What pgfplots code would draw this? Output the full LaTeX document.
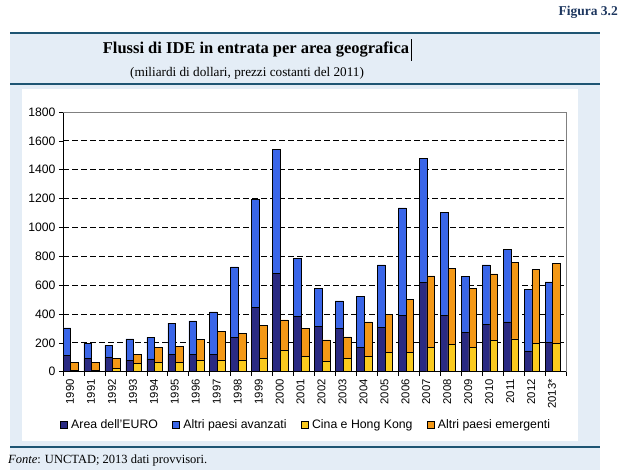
\documentclass[border=0pt]{standalone}
\usepackage{fontspec}
\setmainfont{Liberation Serif}
\setsansfont{Liberation Sans}
\usepackage{pgfplots}
\usepackage{pgfplotstable}
\pgfplotsset{compat=1.18}
\definecolor{euro}{RGB}{42,42,130}
\definecolor{avanz}{RGB}{58,102,232}
\definecolor{cina}{RGB}{250,202,30}
\definecolor{emerg}{RGB}{243,152,22}
\definecolor{panelbg}{RGB}{228,237,246}
\definecolor{rulec}{RGB}{30,85,115}
\definecolor{figc}{RGB}{30,55,95}

\pgfplotstableread{
x euro avanz cina emerg
0 113 191 8 57
1 92 104 8 57
2 99 83 25 67
3 81 147 58 62
4 88 150 62 106
5 120 217 65 110
6 120 233 81 143
7 120 295 81 196
8 238 489 81 187
9 445 750 90 231
10 680 859 150 210
11 383 404 104 194
12 314 263 72 149
13 298 193 90 152
14 168 353 104 242
15 307 433 134 263
16 390 745 134 367
17 618 858 166 498
18 390 715 189 528
19 270 392 166 411
20 330 410 215 463
21 346 503 228 529
22 145 425 196 512
23 203 420 196 554
}\data

\pgfplotsset{
  common/.style={
    scale only axis, width=503pt, height=259.7pt,
    at={(63pt,98.3pt)}, anchor=south west,
    xmin=-0.5, xmax=23.5, ymin=0, ymax=1800,
    ybar stacked, bar width=0.367,
    clip=false,
  },
}

\begin{document}
\begin{tikzpicture}
\useasboundingbox (0pt,0pt) rectangle (619pt,470pt);
\fill[panelbg] (10pt,0pt) rectangle (600pt,437pt);
\fill[white] (22pt,29pt) rectangle (578pt,381pt);
\draw[rulec, line width=2pt] (10pt,437pt) -- (600pt,437pt);
\draw[rulec, line width=2pt] (10pt,386pt) -- (600pt,386pt);
\draw[rulec, line width=2pt] (10pt,23pt) -- (600pt,23pt);
\node[anchor=east, font=\fontsize{13.5}{15}\selectfont\bfseries, text=figc, inner sep=0pt] at (618pt,458pt) {Figura 3.2};
\node[font=\fontsize{16.5}{19}\selectfont\bfseries, inner sep=0pt] at (256pt,420pt) {Flussi di IDE in entrata per area geografica};
\draw[black, line width=0.8pt] (411pt,409pt) -- (411pt,431pt);
\node[font=\fontsize{13.2}{15}\selectfont, inner sep=0pt] at (247pt,397pt) {(miliardi di dollari, prezzi costanti del 2011)};
\node[anchor=west, font=\fontsize{12.5}{14}\selectfont, inner sep=0pt] at (8pt,9pt) {\textit{Fonte}: UNCTAD; 2013 dati provvisori.};

\begin{axis}[common,
  bar shift=-0.3165,
  axis x line*=bottom, axis y line*=left,
  axis line style={-, black, line width=0.8pt},
  xtick={-0.26,0.74,1.74,2.74,3.74,4.74,5.74,6.74,7.74,8.74,9.74,10.74,11.74,12.74,13.74,14.74,15.74,16.74,17.74,18.74,19.74,20.74,21.74,22.74},
  xticklabels={1990,1991,1992,1993,1994,1995,1996,1997,1998,1999,2000,2001,2002,2003,2004,2005,2006,2007,2008,2009,2010,2011,2012,2013*},
  major x tick style={draw=none},
  minor xtick={-0.5,0.5,...,23.5},
  minor tick length=4pt, major tick length=4pt,
  tick align=outside, xtick pos=bottom, ytick pos=left,
  tick style={black, line width=0.6pt},
  ytick={0,200,...,1800},
  extra y ticks={200,400,...,1600}, extra y tick labels={},
  extra y tick style={ymajorgrids=true, major tick length=0pt},
  major grid style={black, dash pattern=on 6pt off 3pt, line width=0.8pt},
  /pgf/number format/1000 sep={}, /pgf/number format/assume math mode=true,
  xticklabel style={rotate=90, anchor=east, yshift=-2pt, font=\sffamily\fontsize{11.3}{13}\selectfont},
  yticklabel style={font=\sffamily\fontsize{12.2}{14}\selectfont},
]
\addplot[fill=euro, draw=black, line width=0.5pt] table[x=x,y=euro]{\data};
\addplot[fill=avanz, draw=black, line width=0.5pt] table[x=x,y=avanz]{\data};
\draw[gray, line width=0.8pt] (rel axis cs:0,1) -- (rel axis cs:1,1) -- (rel axis cs:1,0);
\end{axis}

\begin{axis}[common,
  bar shift=0.05,
  hide axis,
  legend image code/.code={\draw[#1,draw=black,line width=0.4pt] (0pt,-3.5pt) rectangle (7pt,3.5pt);},
  legend columns=4,
  legend style={at={(0.483,-0.205)}, anchor=center, draw=none, fill=none,
    font=\sffamily\fontsize{12.3}{14}\selectfont,
    /tikz/every even column/.append style={column sep=12pt}},
]
\addlegendimage{fill=euro}
\addlegendentry{\hspace{2pt}Area dell'EURO}
\addlegendimage{fill=avanz}
\addlegendentry{\hspace{2pt}Altri paesi avanzati}
\addplot[fill=cina, draw=black, line width=0.5pt] table[x=x,y=cina]{\data};
\addlegendentry{\hspace{2pt}Cina e Hong Kong}
\addplot[fill=emerg, draw=black, line width=0.5pt] table[x=x,y=emerg]{\data};
\addlegendentry{\hspace{2pt}Altri paesi emergenti}
\end{axis}
\end{tikzpicture}
\end{document}
